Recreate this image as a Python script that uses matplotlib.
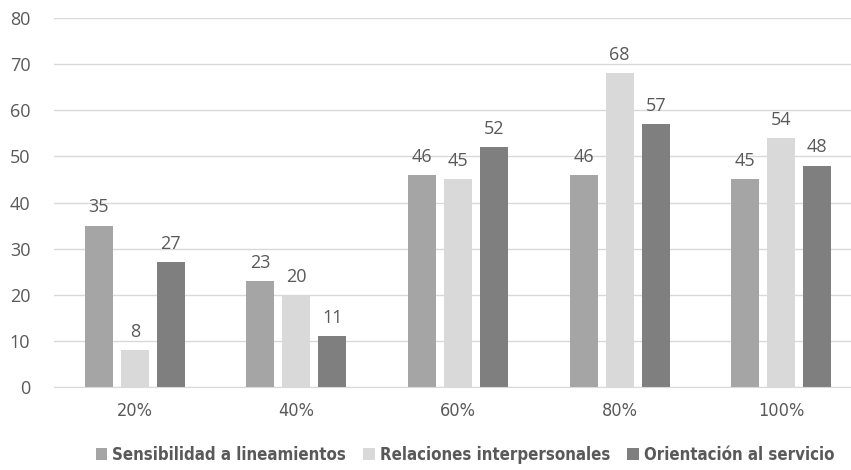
import numpy as np
import matplotlib.pyplot as plt
from matplotlib.font_manager import FontProperties

categories = ['20%', '40%', '60%', '80%', '100%']
series_names = ['Sensibilidad a lineamientos', 'Relaciones interpersonales', 'Orientación al servicio']
sensibilidad = [35, 23, 46, 46, 45]
relaciones = [8, 20, 45, 68, 54]
orientacion = [27, 11, 52, 57, 48]

colors = ['#A5A5A5', '#D9D9D9', '#7F7F7F']
text_color = '#595959'

fig = plt.figure(figsize=(8.51, 4.70), dpi=100)
ax = fig.add_axes([54 / 851, 1 - 387 / 470, 1 - 54 / 851, (387 - 18) / 470])

x = np.arange(len(categories))
width = 0.173
step = 0.223
for i, (vals, name, col) in enumerate(zip([sensibilidad, relaciones, orientacion], series_names, colors)):
    pos = x + (i - 1) * step
    bars = ax.bar(pos, vals, width, color=col, label=name, zorder=2)
    for b, v in zip(bars, vals):
        ax.text(b.get_x() + b.get_width() / 2, v + 2.0, str(v), ha='center', va='bottom',
                fontsize=13, color=text_color, family='Open Sans')

ax.set_ylim(0, 80)
ax.set_yticks(range(0, 81, 10))
ax.set_xlim(-0.5, 4.5 - 11 / 161.5)
ax.set_xticks(x)
narrow = FontProperties(family='DejaVu Sans', stretch='condensed', size=13)
ax.set_xticklabels(categories, fontproperties=narrow, color=text_color)
for lbl in ax.get_yticklabels():
    lbl.set_family('Open Sans')
    lbl.set_fontsize(13)
    lbl.set_color(text_color)

ax.grid(axis='y', color='#D9D9D9', linewidth=1, zorder=0)
for s in ['top', 'right', 'left']:
    ax.spines[s].set_visible(False)
ax.spines['bottom'].set_color('#D9D9D9')
ax.tick_params(axis='both', length=0)
ax.tick_params(axis='x', pad=11)
ax.tick_params(axis='y', pad=17)

# legend sits a little right of centre, under the plot
leg_font = FontProperties(family='DejaVu Sans', stretch='condensed', weight='bold', size=12.1)
leg = fig.legend(loc='center', bbox_to_anchor=(465 / 851, 1 - 455 / 470), ncol=3, frameon=False,
                 handlelength=0.7, handleheight=0.7, handletextpad=0.3, columnspacing=1.0,
                 prop=leg_font)
for t in leg.get_texts():
    t.set_color(text_color)

plt.savefig('out.png', dpi=100)
